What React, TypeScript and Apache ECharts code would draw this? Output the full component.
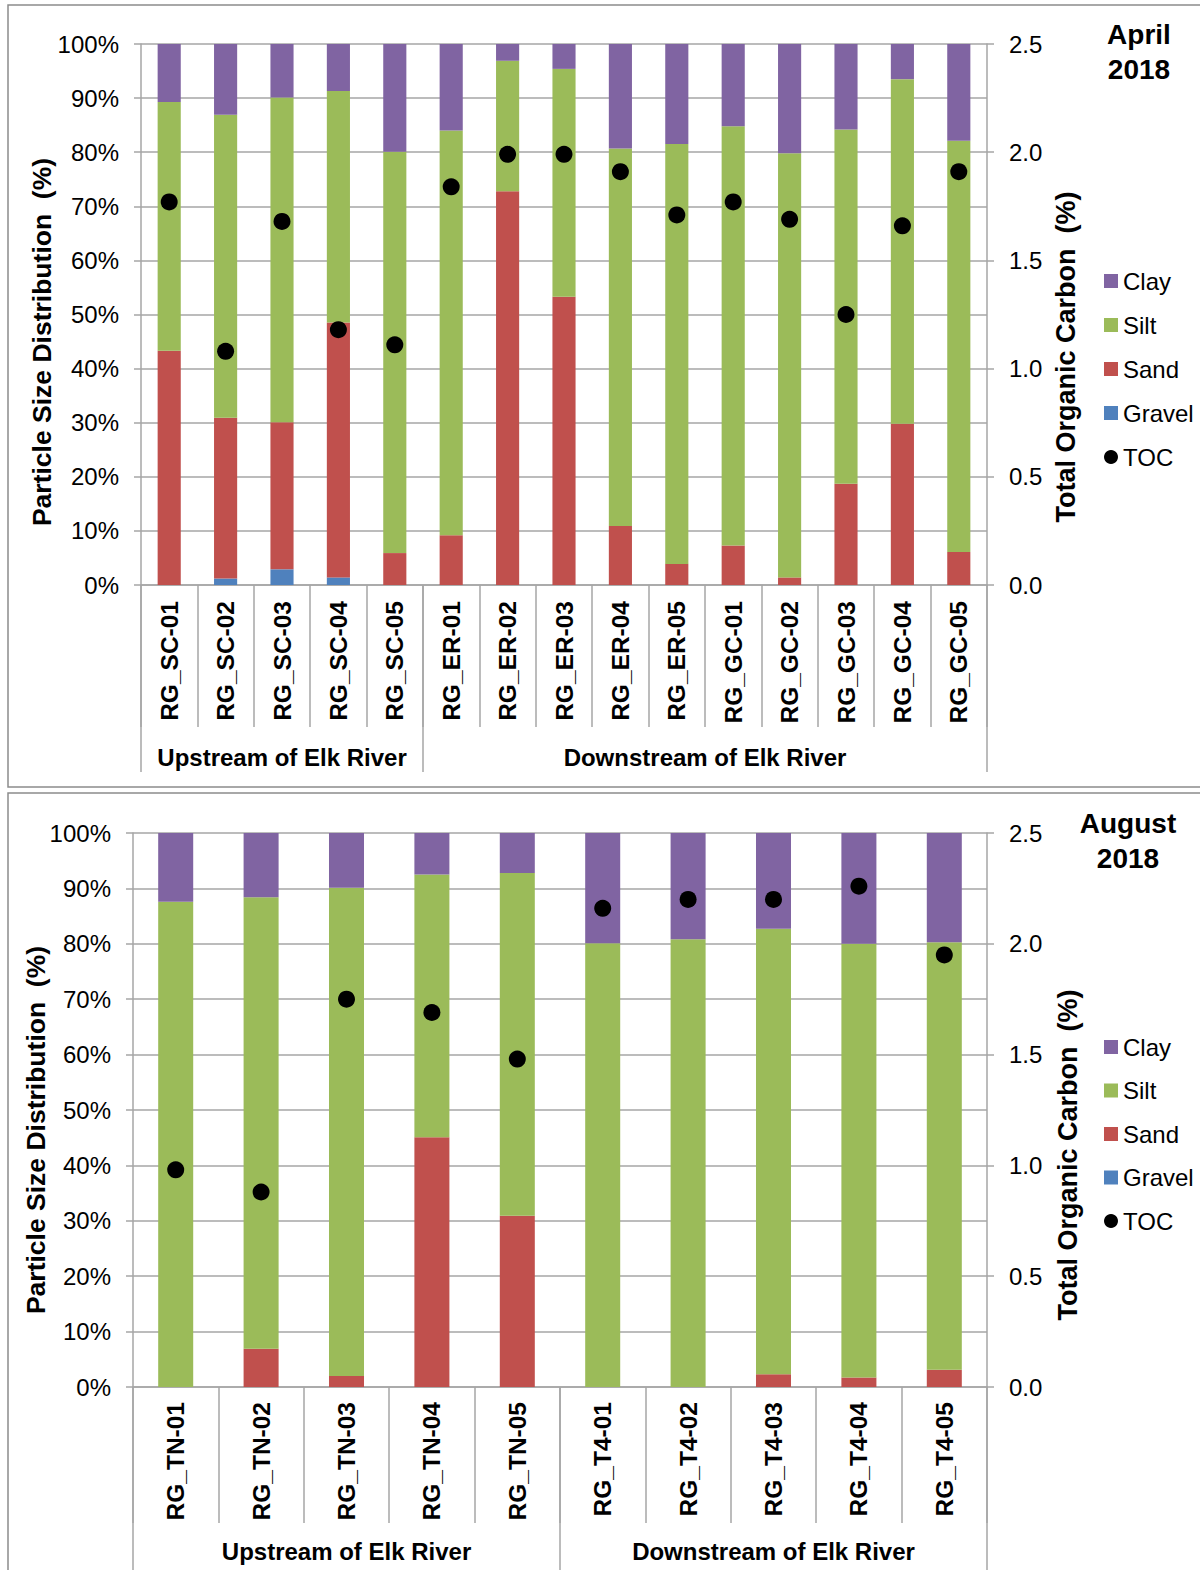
import React, { useEffect, useRef } from "react";
import * as echarts from "echarts";

// ---------- Data ----------
const aprilSamples = [
  "RG_SC-01", "RG_SC-02", "RG_SC-03", "RG_SC-04", "RG_SC-05",
  "RG_ER-01", "RG_ER-02", "RG_ER-03", "RG_ER-04", "RG_ER-05",
  "RG_GC-01", "RG_GC-02", "RG_GC-03", "RG_GC-04", "RG_GC-05",
];
const aprilGravel = [0, 1.2, 2.9, 1.4, 0, 0, 0, 0, 0, 0, 0, 0, 0, 0, 0];
const aprilSand = [43.3, 29.7, 27.2, 47.1, 5.9, 9.2, 72.8, 53.3, 10.9, 3.9, 7.3, 1.4, 18.7, 29.8, 6.1];
const aprilSilt = [46.0, 56.0, 60.0, 42.8, 74.2, 74.8, 24.1, 42.1, 69.8, 77.6, 77.5, 78.4, 65.5, 63.7, 76.0];
const aprilClay = [10.7, 13.1, 9.9, 8.7, 19.9, 16.0, 3.1, 4.6, 19.3, 18.5, 15.2, 20.2, 15.8, 6.5, 17.9];
const aprilToc = [1.77, 1.08, 1.68, 1.18, 1.11, 1.84, 1.99, 1.99, 1.91, 1.71, 1.77, 1.69, 1.25, 1.66, 1.91];
const aprilGroups = ["Upstream of Elk River", "Downstream of Elk River"];
const aprilGroupSizes = [5, 10];

const augustSamples = [
  "RG_TN-01", "RG_TN-02", "RG_TN-03", "RG_TN-04", "RG_TN-05",
  "RG_T4-01", "RG_T4-02", "RG_T4-03", "RG_T4-04", "RG_T4-05",
];
const augustGravel = [0, 0, 0, 0, 0, 0, 0, 0, 0, 0];
const augustSand = [0, 6.9, 2.0, 45.1, 30.9, 0, 0, 2.3, 1.7, 3.1];
const augustSilt = [87.6, 81.5, 88.1, 47.4, 61.9, 80.1, 80.8, 80.4, 78.3, 77.2];
const augustClay = [12.4, 11.6, 9.9, 7.5, 7.2, 19.9, 19.2, 17.3, 20.0, 19.7];
const augustToc = [0.98, 0.88, 1.75, 1.69, 1.48, 2.16, 2.2, 2.2, 2.26, 1.95];
const augustGroups = ["Upstream of Elk River", "Downstream of Elk River"];
const augustGroupSizes = [5, 5];

const pctTicks = { min: 0, max: 100, interval: 10 };
const tocTicks = { min: 0, max: 2.5, interval: 0.5 };

const COLORS = { Clay: "#8064A2", Silt: "#9BBB59", Sand: "#C0504D", Gravel: "#4F81BD", TOC: "#000000" };
const FONT = "'Liberation Sans', Arial, Helvetica, sans-serif";
const GRID_COLOR = "#a6a6a6";

type PanelCfg = {
  samples: string[];
  gravel: number[];
  sand: number[];
  silt: number[];
  clay: number[];
  toc: number[];
  groups: string[];
  groupSizes: number[];
  grid: { left: number; top: number; width: number; height: number };
  catTick: number;
  groupTick: number;
  groupMargin: number;
  catMargin: number;
  legendTop: number;
  legendGap: number;
};

function boundaries(sizes: number[]) {
  const b = [0];
  sizes.forEach((s) => b.push(b[b.length - 1] + s));
  return b;
}

export default function App() {
  const ref = useRef<HTMLDivElement>(null);

  useEffect(() => {
    if (!ref.current) return;
    const chart = echarts.init(ref.current, undefined, { renderer: "svg" });

    const panels: PanelCfg[] = [
      {
        samples: aprilSamples, gravel: aprilGravel, sand: aprilSand, silt: aprilSilt, clay: aprilClay,
        toc: aprilToc, groups: aprilGroups, groupSizes: aprilGroupSizes,
        grid: { left: 141, top: 44, width: 846, height: 541 },
        catTick: 142, groupTick: 187, groupMargin: 160, catMargin: 16,
        legendTop: 264, legendGap: 20,
      },
      {
        samples: augustSamples, gravel: augustGravel, sand: augustSand, silt: augustSilt, clay: augustClay,
        toc: augustToc, groups: augustGroups, groupSizes: augustGroupSizes,
        grid: { left: 133, top: 833, width: 854, height: 554 },
        catTick: 136, groupTick: 200, groupMargin: 152, catMargin: 15,
        legendTop: 1030, legendGap: 19.5,
      },
    ];

    const grids: any[] = [];
    const xAxes: any[] = [];
    const yAxes: any[] = [];
    const series: any[] = [];
    const legends: any[] = [];

    panels.forEach((p, i) => {
      grids.push({ ...p.grid, containLabel: false });
      const n = p.samples.length;
      const bnd = boundaries(p.groupSizes);
      const mids = p.groupSizes.map((s, k) => bnd[k] + s / 2);

      xAxes.push({
        type: "category",
        gridIndex: i,
        data: p.samples,
        position: "bottom",
        axisLine: { show: true, lineStyle: { color: GRID_COLOR, width: 1.5 } },
        axisTick: { show: true, interval: 0, length: p.catTick, lineStyle: { color: GRID_COLOR, width: 1.5 } },
        axisLabel: {
          interval: 0, rotate: 90, margin: p.catMargin, fontSize: 24.5, fontWeight: "bold",
          color: "#000", fontFamily: FONT,
        },
        splitLine: { show: false },
      });
      xAxes.push({
        type: "value",
        gridIndex: i,
        min: 0,
        max: n,
        position: "bottom",
        axisLine: { show: false },
        splitLine: { show: false },
        axisTick: {
          show: true, customValues: bnd, length: p.groupTick,
          lineStyle: { color: GRID_COLOR, width: 1.5 },
        },
        axisLabel: {
          show: true, customValues: mids, margin: p.groupMargin, fontSize: 24, fontWeight: "bold",
          color: "#000", fontFamily: FONT,
          formatter: (v: number) => {
            const k = mids.findIndex((m) => Math.abs(m - v) < 1e-6);
            return k >= 0 ? p.groups[k] : "";
          },
        },
      });
      yAxes.push({
        type: "value",
        gridIndex: i,
        position: "left",
        ...pctTicks,
        axisLine: { show: true, lineStyle: { color: GRID_COLOR, width: 1.5 } },
        axisTick: { show: true, length: 7, lineStyle: { color: GRID_COLOR, width: 1.5 } },
        axisLabel: { formatter: "{value}%", fontSize: 24, color: "#000", margin: 22, fontFamily: FONT },
        splitLine: { show: true, lineStyle: { color: GRID_COLOR, width: 1.5 } },
      });
      yAxes.push({
        type: "value",
        gridIndex: i,
        position: "right",
        ...tocTicks,
        axisLine: { show: true, lineStyle: { color: GRID_COLOR, width: 1.5 } },
        axisTick: { show: true, length: 7, lineStyle: { color: GRID_COLOR, width: 1.5 } },
        axisLabel: {
          formatter: (v: number) => v.toFixed(1), fontSize: 24, color: "#000", margin: 22, fontFamily: FONT,
        },
        splitLine: { show: false },
      });

      const xi = i * 2;
      const yl = i * 2;
      const yr = i * 2 + 1;
      const stack = "psd" + i;
      const barW = "41%";
      const mk = (name: string, data: number[]) => ({
        name, type: "bar", stack, xAxisIndex: xi, yAxisIndex: yl, data, barWidth: barW,
        itemStyle: { color: (COLORS as any)[name] },
      });
      series.push(mk("Gravel", p.gravel));
      series.push(mk("Sand", p.sand));
      series.push(mk("Silt", p.silt));
      series.push(mk("Clay", p.clay));
      series.push({
        name: "TOC", type: "scatter", xAxisIndex: xi, yAxisIndex: yr, data: p.toc,
        symbol: "circle", symbolSize: 17, itemStyle: { color: "#000", opacity: 1 }, z: 5,
      });

      legends.push({
        orient: "vertical",
        left: 1099,
        top: p.legendTop,
        itemWidth: 14,
        itemHeight: 14,
        itemGap: p.legendGap,
        selectedMode: false,
        textStyle: { fontSize: 24, color: "#000", fontFamily: FONT, lineHeight: 24 },
        data: [
          { name: "Clay", icon: "rect" },
          { name: "Silt", icon: "rect" },
          { name: "Sand", icon: "rect" },
          { name: "Gravel", icon: "rect" },
          { name: "TOC", icon: "circle", itemStyle: { color: "#000", opacity: 1 } },
        ],
      });
    });

    const txt = (text: string, x: number, y: number, size: number, rot = 0) => ({
      type: "text",
      x, y, rotation: rot,
      style: {
        text, fontSize: size, fontWeight: "bold", fontFamily: FONT, fill: "#000",
        align: "center", verticalAlign: "middle", textAlign: "center", textVerticalAlign: "middle",
        lineHeight: size * 1.22,
      },
    });

    const graphic: any[] = [
      { type: "rect", shape: { x: 8, y: 5, width: 1200, height: 782 }, style: { fill: "none", stroke: "#8c8c8c", lineWidth: 1.5 } },
      { type: "rect", shape: { x: 8, y: 793, width: 1200, height: 800 }, style: { fill: "none", stroke: "#8c8c8c", lineWidth: 1.5 } },
      txt("April\n2018", 1139, 52, 28),
      txt("August\n2018", 1128, 841, 28),
      txt("Particle Size Distribution  (%)", 42, 342, 26.5, Math.PI / 2),
      txt("Total Organic Carbon  (%)", 1066, 357, 27, Math.PI / 2),
      txt("Particle Size Distribution  (%)", 36, 1130, 26.5, Math.PI / 2),
      txt("Total Organic Carbon  (%)", 1068, 1155, 27, Math.PI / 2),
    ];

    chart.setOption({
      animation: false,
      backgroundColor: "#fff",
      textStyle: { fontFamily: FONT },
      grid: grids,
      xAxis: xAxes,
      yAxis: yAxes,
      legend: legends,
      series,
      graphic,
    });

    return () => chart.dispose();
  }, []);

  return (
    <div
      ref={ref}
      style={{ position: "absolute", left: 0, top: 0, width: 1200, height: 1570 }}
    />
  );
}
